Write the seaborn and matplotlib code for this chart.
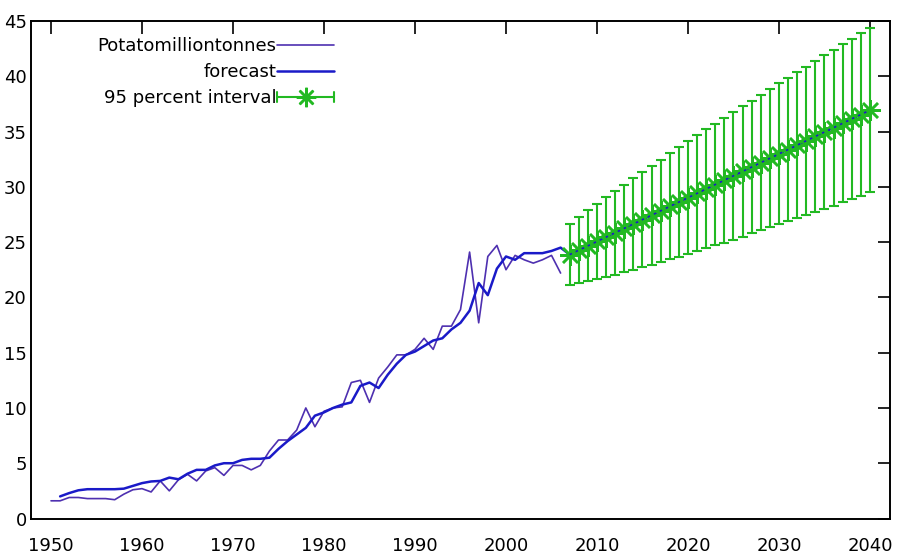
import matplotlib
matplotlib.use("Agg")
import matplotlib.pyplot as plt
import seaborn as sns
from matplotlib.lines import Line2D
from matplotlib.legend_handler import HandlerBase

# Observed potato production, million tonnes, 1950-2006
obs_years = list(range(1950, 2007))
potato = [1.6, 1.6, 1.9, 1.9, 1.8, 1.8, 1.8, 1.7, 2.2, 2.6,
          2.7, 2.4, 3.4, 2.5, 3.5, 4.0, 3.4, 4.3, 4.6, 3.9,
          4.8, 4.8, 4.4, 4.8, 6.1, 7.1, 7.1, 8.0, 10.0, 8.3,
          9.7, 10.0, 10.1, 12.3, 12.5, 10.5, 12.7, 13.7, 14.8, 14.8,
          15.3, 16.3, 15.3, 17.4, 17.4, 18.9, 24.1, 17.7, 23.7, 24.7,
          22.5, 23.8, 23.4, 23.1, 23.4, 23.8, 22.2]

# One-step-ahead fitted values, 1951-2006
fit_years = list(range(1951, 2007))
fitted = [2.0, 2.3, 2.55, 2.65, 2.65, 2.65, 2.65, 2.7, 2.95,
          3.2, 3.35, 3.4, 3.7, 3.55, 4.05, 4.4, 4.4, 4.8, 5.0,
          5.0, 5.3, 5.4, 5.4, 5.5, 6.3, 7.0, 7.6, 8.2, 9.3,
          9.6, 10.0, 10.3, 10.5, 12.0, 12.3, 11.8, 13.0, 14.0, 14.8,
          15.1, 15.6, 16.1, 16.3, 17.1, 17.7, 18.8, 21.3, 20.2, 22.6,
          23.7, 23.4, 24.0, 24.0, 24.0, 24.2, 24.5]

# Point forecasts and 95 percent interval, 2007-2040
fc_years = list(range(2007, 2041))
fc_mean = [23.87, 24.27, 24.66, 25.06, 25.45, 25.85, 26.25, 26.64, 27.04, 27.43,
           27.83, 28.23, 28.62, 29.02, 29.41, 29.81, 30.21, 30.60, 31.00, 31.39,
           31.79, 32.19, 32.58, 32.98, 33.37, 33.77, 34.17, 34.56, 34.96, 35.35,
           35.75, 36.15, 36.54, 36.94]
fc_low = [21.14, 21.29, 21.45, 21.64, 21.84, 22.06, 22.29, 22.50, 22.73, 22.95,
          23.19, 23.43, 23.67, 23.92, 24.17, 24.43, 24.70, 24.96, 25.23, 25.50,
          25.78, 26.06, 26.33, 26.61, 26.88, 27.17, 27.46, 27.74, 28.03, 28.31,
          28.60, 28.90, 29.19, 29.49]
fc_high = [26.60, 27.25, 27.87, 28.48, 29.06, 29.64, 30.21, 30.78, 31.35, 31.91,
           32.47, 33.03, 33.57, 34.12, 34.65, 35.19, 35.72, 36.24, 36.77, 37.28,
           37.80, 38.32, 38.83, 39.35, 39.86, 40.37, 40.88, 41.38, 41.89, 42.39,
           42.90, 43.40, 43.89, 44.39]

x_ticks = list(range(1950, 2041, 10))
y_ticks = list(range(0, 46, 5))

OBS_COLOR = "#4e30b0"
FIT_COLOR = "#1a1ac8"
INT_COLOR = "#22b922"
STAR = (8, 2, 0)

sns.set_theme(style="white")
plt.rcParams["font.family"] = ["DejaVu Sans"]
plt.rcParams["text.color"] = "black"

fig = plt.figure(figsize=(8.99, 5.56), dpi=100)
ax = fig.add_axes([31 / 899, 1 - 518.5 / 556, (890 - 31) / 899, (518.5 - 21) / 556])

line_years = fit_years + fc_years
line_vals = fitted + fc_mean

sns.lineplot(x=obs_years, y=potato, ax=ax, color=OBS_COLOR, lw=1.2,
             estimator=None, sort=False, zorder=2)
sns.lineplot(x=line_years, y=line_vals, ax=ax, color=FIT_COLOR, lw=1.8,
             estimator=None, sort=False, zorder=2)

lo_err = [m - l for m, l in zip(fc_mean, fc_low)]
hi_err = [h - m for m, h in zip(fc_mean, fc_high)]
ax.errorbar(fc_years, fc_mean, yerr=[lo_err, hi_err], fmt="none",
            ecolor=INT_COLOR, elinewidth=1.5, capsize=3.5, capthick=1.5, zorder=3)
ax.plot(fc_years, fc_mean, ls="none", marker=STAR, ms=15, mew=1.8,
        color=INT_COLOR, zorder=3)
ax.plot(fc_years, fc_mean, ls=(0, (1.5, 2.5)), lw=1.2, color=FIT_COLOR, zorder=4)

ax.set_xlim(1947.8, 2042.2)
ax.set_ylim(0, 45)
ax.set_xticks(x_ticks)
ax.set_yticks(y_ticks)
ax.tick_params(axis="both", which="major", direction="in", length=9, width=1.2,
               colors="black", labelsize=13, top=True, right=True)
ax.tick_params(axis="x", pad=13)
ax.tick_params(axis="y", pad=3)
for sp in ax.spines.values():
    sp.set_color("black")
    sp.set_linewidth(1.4)
ax.set_xlabel("")
ax.set_ylabel("")
ax.grid(False)


class IntervalKey(HandlerBase):
    def create_artists(self, legend, orig_handle, xdescent, ydescent,
                       width, height, fontsize, trans):
        y = height / 2 - ydescent
        x0 = -xdescent
        x1 = x0 + width
        arts = [
            Line2D([x0, x1], [y, y], color=INT_COLOR, lw=1.5),
            Line2D([x0, x0], [y - 3.5, y + 3.5], color=INT_COLOR, lw=1.5),
            Line2D([x1, x1], [y - 3.5, y + 3.5], color=INT_COLOR, lw=1.5),
            Line2D([(x0 + x1) / 2], [y], ls="none", marker=STAR, ms=14,
                   mew=1.8, color=INT_COLOR),
        ]
        for a in arts:
            a.set_transform(trans)
        return arts


h_obs = Line2D([], [], color=OBS_COLOR, lw=1.2)
h_fit = Line2D([], [], color=FIT_COLOR, lw=1.8)
h_int = object()
leg = ax.legend([h_obs, h_fit, h_int],
                ["Potatomilliontonnes", "forecast", "95 percent interval"],
                handler_map={h_int: IntervalKey()},
                loc="upper right", bbox_to_anchor=((334 - 31) / 859, (518.5 - 37) / 497.5),
                bbox_transform=ax.transAxes, frameon=False, markerfirst=False,
                borderpad=0, borderaxespad=0, handlelength=3.15, handletextpad=0.05,
                labelspacing=0.45, fontsize=13)
for t in leg.get_texts():
    t.set_color("black")

fig.savefig("out.png", dpi=100)
